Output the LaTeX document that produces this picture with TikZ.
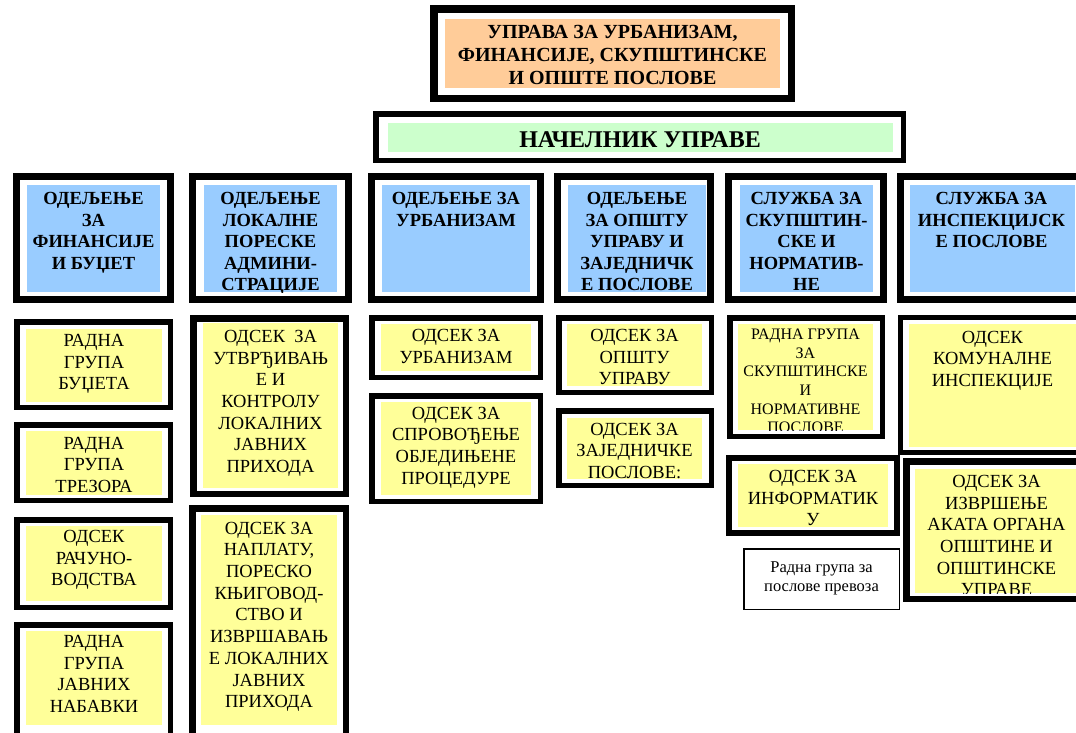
\documentclass[tikz,border=0pt]{standalone}
\usepackage{fontspec}
\setmainfont{Liberation Serif}
\newfontfamily\tnr{Liberation Serif}
\definecolor{orng}{HTML}{FFCC99}
\definecolor{grn}{HTML}{CCFFCC}
\definecolor{blu}{HTML}{99CCFF}
\definecolor{ylw}{HTML}{FFFF99}
\tikzset{
  txt/.style={anchor=north, inner sep=0pt, align=center, text=black},
  hdr/.style={txt, font=\tnr\bfseries\fontsize{18.5}{21.6}\selectfont},
  sub/.style={txt, font=\tnr\fontsize{18.5}{21.7}\selectfont},
  subsmall/.style={txt, font=\tnr\fontsize{16}{18.6}\selectfont},
  tiny/.style={txt, font=\tnr\fontsize{16.5}{19}\selectfont},
}
% frame: line width, x1, y1, x2, y2 (outer edges)
\newcommand\frm[5]{\draw[line width=#1pt] ({#2+#1/2},{#3+#1/2}) rectangle ({#4-#1/2},{#5-#1/2});}
% fill: colour, x1, y1, x2, y2
\newcommand\filr[5]{\fill[#1] (#2,#3) rectangle (#4,#5);}
% text clipped to fill: name, style, x1, y1, x2, y2, cx, cap top, text
\newcommand\txtin[9]{\begin{scope}\clip (#3,#4) rectangle (#5,#6); \node[#2] (#1) at (#7,#8) {#9};\end{scope}}
\begin{document}
\begin{tikzpicture}[x=1pt,y=-1pt]
\useasboundingbox (0,0) rectangle (1076,732);
\clip (0,0) rectangle (1076,732);
\fill[white] (0,0) rectangle (1076,732);

% top box
\frm{7.5}{430}{5}{795}{102}
\filr{orng}{445}{19}{780}{88}
\txtin{top}{txt, font=\tnr\bfseries\fontsize{20}{23}\selectfont}{445}{19}{780}{88}{612.5}{25}{УПРАВА ЗА УРБАНИЗАМ,\\ФИНАНСИЈЕ, СКУПШТИНСКЕ\\И ОПШТЕ ПОСЛОВЕ}

% head of administration
\frm{5.5}{373}{111}{906}{163}
\filr{grn}{388}{123}{893}{152}
\txtin{chief}{txt, font=\tnr\bfseries\fontsize{24}{27}\selectfont}{388}{123}{893}{152}{640}{131}{НАЧЕЛНИК УПРАВЕ}

% department headers
\frm{7}{13}{173}{174}{303}
\filr{blu}{27}{185}{160}{292}
\txtin{d1}{hdr}{27}{185}{160}{292}{93.5}{192}{ОДЕЉЕЊЕ\\ЗА\\ФИНАНСИЈЕ\\И БУЏЕТ}

\frm{7}{189}{173}{352}{303}
\filr{blu}{204}{185}{337}{292}
\txtin{d2}{hdr}{204}{185}{337}{292}{270.5}{192}{ОДЕЉЕЊЕ\\ЛОКАЛНЕ\\ПОРЕСКЕ\\АДМИНИ-\\СТРАЦИЈЕ}

\frm{7}{368}{173}{544}{303}
\filr{blu}{382}{185}{530}{292}
\txtin{d3}{hdr}{382}{185}{530}{292}{456}{192}{ОДЕЉЕЊЕ ЗА\\УРБАНИЗАМ}

\frm{7}{554}{173}{714}{303}
\filr{blu}{568}{185}{706}{292}
\txtin{d4}{hdr}{568}{185}{706}{292}{637}{192}{ОДЕЉЕЊЕ\\ЗА ОПШТУ\\УПРАВУ И\\ЗАЈЕДНИЧК\\Е ПОСЛОВЕ}

\frm{7}{725}{173}{887}{303}
\filr{blu}{740}{185}{873}{292}
\txtin{d5}{hdr}{740}{185}{873}{292}{806.5}{192}{СЛУЖБА ЗА\\СКУПШТИН-\\СКЕ И\\НОРМАТИВ-\\НЕ}

\frm{7}{897}{173}{1088}{303}
\filr{blu}{910}{185}{1075}{292}
\txtin{d6}{hdr}{910}{185}{1075}{292}{991.5}{192}{СЛУЖБА ЗА\\ИНСПЕКЦИЈСК\\Е ПОСЛОВЕ}

% column 1
\frm{5.5}{14}{319}{173}{410}
\filr{ylw}{26}{329}{162}{402}
\txtin{s11}{sub}{26}{329}{162}{402}{94}{334}{РАДНА\\ГРУПА\\БУЏЕТА}

\frm{5.5}{14}{422}{173}{503}
\filr{ylw}{26}{431}{162}{495}
\txtin{s12}{sub}{26}{431}{162}{495}{94}{436.7}{РАДНА\\ГРУПА\\ТРЕЗОРА}

\frm{5.5}{14}{517}{173}{610}
\filr{ylw}{26}{526}{162}{601}
\txtin{s13}{sub}{26}{526}{162}{601}{94}{530}{ОДСЕК\\РАЧУНО-\\ВОДСТВА}

\frm{5.5}{14}{622}{173}{745}
\filr{ylw}{26}{631}{162}{725}
\txtin{s14}{sub}{26}{631}{162}{725}{94}{635}{РАДНА\\ГРУПА\\ЈАВНИХ\\НАБАВКИ}

% column 2
\frm{6.5}{190}{315}{349}{497}
\filr{ylw}{203}{323}{338}{488}
\txtin{s21}{sub}{203}{323}{338}{488}{270.5}{330}{ОДСЕК~ ЗА\\УТВРЂИВАЊ\\Е И\\КОНТРОЛУ\\ЛОКАЛНИХ\\ЈАВНИХ\\ПРИХОДА}

\frm{6.5}{189}{505}{349}{745}
\filr{ylw}{201}{515}{337}{725}
\txtin{s22}{sub}{201}{515}{337}{725}{269}{521.7}{ОДСЕК ЗА\\НАПЛАТУ,\\ПОРЕСКО\\КЊИГОВОД-\\СТВО И\\ИЗВРШАВАЊ\\Е ЛОКАЛНИХ\\ЈАВНИХ\\ПРИХОДА}

% column 3
\frm{5.5}{369}{315}{543}{380}
\filr{ylw}{381}{324}{531}{371}
\txtin{s31}{sub}{381}{324}{531}{371}{456}{329}{ОДСЕК ЗА\\УРБАНИЗАМ}

\frm{5.5}{369}{393}{543}{504}
\filr{ylw}{381}{402}{531}{495}
\txtin{s32}{sub}{381}{402}{531}{495}{456}{406.7}{ОДСЕК ЗА\\СПРОВОЂЕЊЕ\\ОБЈЕДИЊЕНЕ\\ПРОЦЕДУРЕ}

% column 4
\frm{5.5}{556}{315}{714}{395}
\filr{ylw}{567}{324}{702}{386}
\txtin{s41}{sub}{567}{324}{702}{386}{634.5}{329}{ОДСЕК ЗА\\ОПШТУ\\УПРАВУ}

\frm{5.5}{556}{408}{714}{488}
\filr{ylw}{567}{418}{702}{479}
\txtin{s42}{sub}{567}{418}{702}{479}{634.5}{422.7}{ОДСЕК ЗА\\ЗАЈЕДНИЧКЕ\\ПОСЛОВЕ:}

% column 5
\frm{5.5}{727}{315}{885}{439}
\filr{ylw}{738}{324}{873}{430}
\txtin{s51}{subsmall}{738}{324}{873}{430}{805.5}{329}{РАДНА ГРУПА\\ЗА\\СКУПШТИНСКЕ\\И\\НОРМАТИВНЕ\\ПОСЛОВЕ}

\frm{6}{726}{455}{900}{536}
\filr{ylw}{738}{464}{888}{527}
\txtin{s52}{sub}{738}{464}{888}{527}{813}{470}{ОДСЕК ЗА\\ИНФОРМАТИК\\У}

\frm{1.5}{743}{548}{900}{610}
\txtin{s53}{tiny}{745}{550}{898}{608}{821.5}{561}{Радна група за\\послове превоза}

% column 6
\frm{5}{898}{315}{1088}{455}
\filr{ylw}{909}{324}{1076}{447}
\txtin{s61}{sub}{909}{324}{1076}{447}{992.5}{330.7}{ОДСЕК\\КОМУНАЛНЕ\\ИНСПЕКЦИЈЕ}

\frm{6.5}{903}{458}{1090}{602}
\filr{ylw}{915}{469}{1078}{593}
\txtin{s62}{sub}{915}{469}{1078}{593}{996.5}{475}{ОДСЕК ЗА\\ИЗВРШЕЊЕ\\АКАТА ОРГАНА\\ОПШТИНЕ И\\ОПШТИНСКЕ\\УПРАВЕ}
\end{tikzpicture}
\end{document}
